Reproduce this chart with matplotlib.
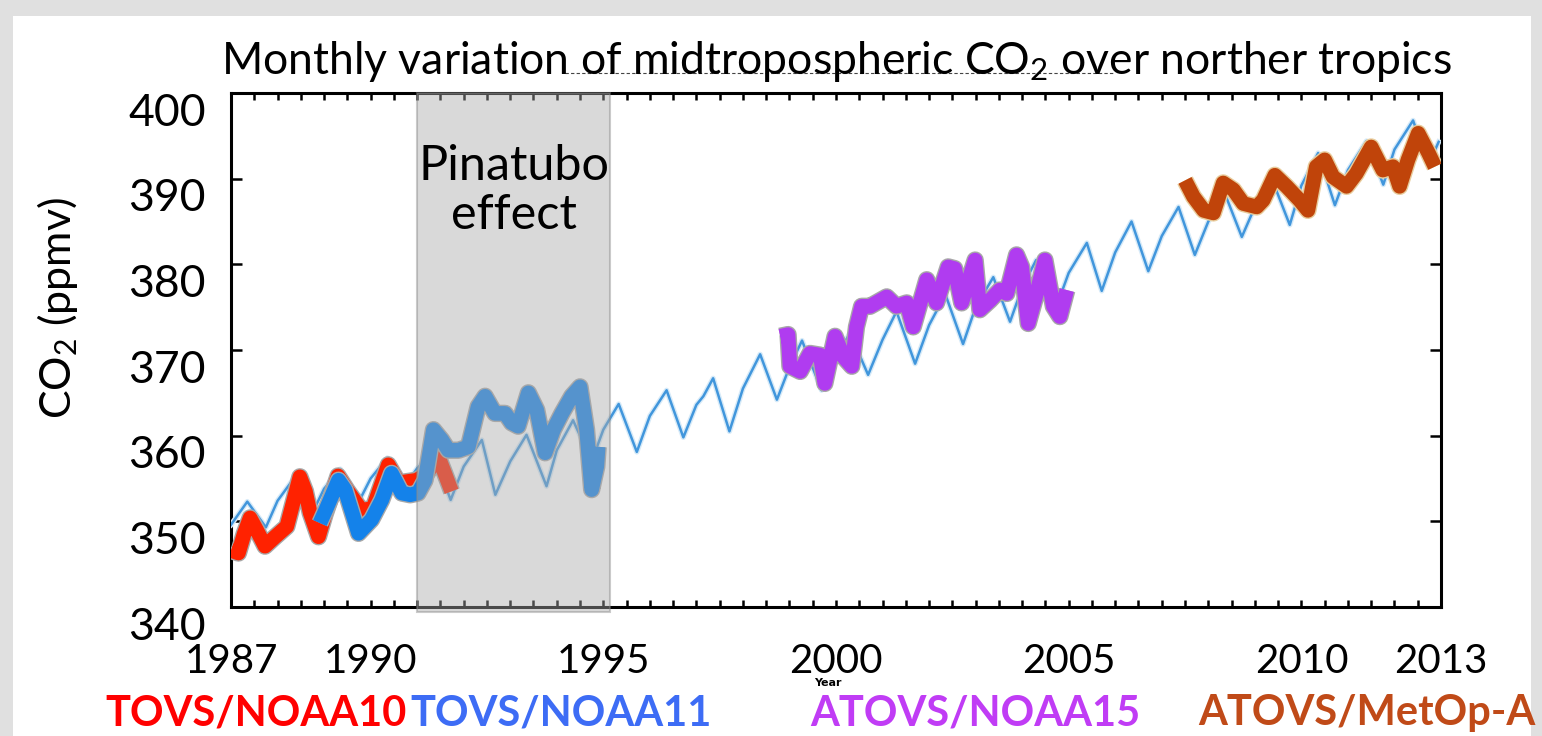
import numpy as np
import matplotlib
matplotlib.use("Agg")
import matplotlib.pyplot as plt
import matplotlib.patheffects as pe
from matplotlib.patches import Rectangle
from matplotlib.lines import Line2D
from matplotlib.transforms import ScaledTranslation

plt.rcParams['font.family'] = ['Lato', 'DejaVu Sans']
plt.rcParams['mathtext.default'] = 'regular'

# ---- data ----
# thin model curve (peaks / troughs / mid-rise points)
model_year = [1987.0, 1987.35, 1987.75, 1988.0, 1988.35, 1988.75, 1989.0, 1989.35, 1989.72,
              1990.0, 1990.36, 1990.72, 1991.0, 1991.35, 1991.72, 1992.0, 1992.39, 1992.68,
              1993.0, 1993.35, 1993.78, 1994.0, 1994.35, 1994.75, 1995.0, 1995.33, 1995.72,
              1996.0, 1996.36, 1996.72, 1997.0, 1997.15, 1997.36, 1997.71, 1998.0, 1998.37, 1998.73,
              1999.0, 1999.27, 1999.69, 2000.0, 2000.3, 2000.69, 2001.0, 2001.3, 2001.7,
              2002.0, 2002.35, 2002.73, 2003.0, 2003.38, 2003.74, 2004.0, 2004.3, 2004.72,
              2005.0, 2005.39, 2005.71, 2006.0, 2006.35, 2006.71, 2007.0, 2007.36, 2007.71,
              2008.0, 2008.36, 2008.72, 2009.0, 2009.4, 2009.75, 2010.0, 2010.36, 2010.72,
              2011.0, 2011.4, 2011.76, 2012.0, 2012.4, 2012.73, 2012.95]
model_co2 = [349.6, 352.3, 349.3, 352.4, 355.0, 351.0, 353.8, 356.1, 352.0,
             355.0, 357.4, 354.0, 356.2, 358.0, 352.5, 356.4, 359.5, 353.1,
             357.0, 360.1, 354.1, 358.3, 361.8, 357.0, 360.7, 363.7, 358.1,
             362.3, 365.3, 359.8, 363.6, 364.6, 366.7, 360.5, 365.5, 369.5, 364.2,
             368.0, 371.1, 365.3, 369.0, 372.0, 367.1, 371.2, 374.5, 368.4,
             372.9, 376.5, 370.7, 375.0, 378.5, 373.3, 377.3, 380.5, 374.8,
             379.0, 382.5, 376.9, 381.4, 385.0, 379.2, 383.3, 386.7, 381.1,
             385.0, 388.2, 383.2, 386.7, 389.5, 384.6, 389.2, 393.0, 386.9,
             391.0, 394.4, 389.3, 393.4, 396.8, 391.6, 394.3]

noaa10_year = [1987.0, 1987.16, 1987.28, 1987.41, 1987.55, 1987.73, 1987.95, 1988.2, 1988.35,
               1988.48, 1988.6, 1988.7, 1988.88, 1989.02, 1989.3, 1989.5, 1989.8, 1990.05,
               1990.38, 1990.6, 1990.99, 1991.2, 1991.45, 1991.6, 1991.74]
noaa10_co2 = [346.6, 346.3, 348.5, 350.4, 349.0, 347.1, 348.2, 349.4, 352.5,
              355.2, 353.5, 351.0, 348.2, 350.8, 355.3, 353.6, 351.3, 351.5,
              356.6, 354.5, 354.8, 355.5, 357.6, 355.5, 353.5]

noaa11_year = [1988.91, 1989.05, 1989.31, 1989.45, 1989.74, 1990.02, 1990.24, 1990.45, 1990.67,
               1990.85, 1991.02, 1991.17, 1991.35, 1991.53, 1991.67, 1991.89, 1992.1, 1992.31,
               1992.46, 1992.67, 1992.89, 1993.03, 1993.17, 1993.39, 1993.57, 1993.75, 1993.93,
               1994.11, 1994.32, 1994.5, 1994.64, 1994.75, 1994.86, 1994.89]
noaa11_co2 = [349.8, 351.5, 354.8, 353.7, 348.6, 350.2, 352.5, 355.6, 353.3,
              353.1, 353.3, 354.8, 360.7, 359.5, 358.3, 358.3, 358.7, 363.4,
              364.6, 362.6, 362.6, 361.5, 361.1, 365.0, 363.0, 358.0, 360.7,
              362.6, 364.6, 365.7, 360.7, 353.7, 356.4, 358.7]

noaa15_year = [1998.8, 1998.97, 1999.01, 1999.23, 1999.44, 1999.66, 1999.76, 1999.98, 2000.16,
               2000.34, 2000.44, 2000.55, 2000.73, 2001.09, 2001.3, 2001.52, 2001.66, 2001.95,
               2002.16, 2002.41, 2002.55, 2002.7, 2002.81, 2002.99, 2003.09, 2003.31, 2003.52,
               2003.67, 2003.88, 2003.99, 2004.13, 2004.31, 2004.49, 2004.67, 2004.81, 2004.96]
noaa15_co2 = [371.6, 371.8, 368.1, 367.5, 369.6, 369.4, 366.1, 371.6, 369.2,
              368.1, 372.7, 375.1, 375.1, 376.2, 375.1, 375.5, 372.7, 378.2,
              375.5, 379.7, 379.5, 375.5, 377.4, 380.5, 374.7, 375.8, 377.0,
              376.6, 381.1, 379.7, 373.1, 376.6, 380.5, 375.1, 373.9, 377.0]

metop_year = [2007.5, 2007.68, 2007.9, 2008.11, 2008.32, 2008.54, 2008.75, 2009.04, 2009.18,
              2009.43, 2009.68, 2009.96, 2010.14, 2010.32, 2010.5, 2010.68, 2010.97, 2011.18,
              2011.5, 2011.75, 2011.97, 2012.11, 2012.29, 2012.51, 2012.73, 2012.87]
metop_co2 = [389.8, 387.9, 386.3, 386.0, 389.5, 388.7, 387.1, 386.7, 387.5,
             390.4, 389.1, 387.5, 386.3, 391.4, 392.2, 390.2, 389.1, 390.6,
             393.7, 391.0, 391.4, 389.1, 392.2, 395.3, 393.0, 391.4]

year_ticks = [1987, 1990, 1995, 2000, 2005, 2010, 2013]
co2_ticks = [340, 350, 360, 370, 380, 390, 400]
pinatubo = (1991.0, 1995.15)

sensor_labels = ["TOVS/NOAA10", "TOVS/NOAA11", "ATOVS/NOAA15", "ATOVS/MetOp-A"]
sensor_colors = ["#ff0000", "#3d6cf5", "#c03cf5", "#c04a18"]
sensor_xpos = [256, 561, 975, 1367]

W, H = 1542, 736
fig = plt.figure(figsize=(W / 100, H / 100), dpi=100, facecolor="#e0e0e0")
fig.add_artist(Rectangle((13 / W, 0), (1531 - 13) / W, 1 - 16 / H,
                         transform=fig.transFigure, facecolor="white",
                         edgecolor="none", zorder=0))

ax = fig.add_axes([231 / W, 1 - 607 / H, (1441 - 231) / W, (607 - 93) / H])
ax.set_xlim(1987, 2013)
ax.set_ylim(340, 400)

# thin model line
ax.plot(model_year, model_co2, color="#4196dc", lw=1.8, zorder=3,
        solid_joinstyle="round",
        path_effects=[pe.Stroke(linewidth=3.8, foreground="#d6eaf8"), pe.Normal()])


def thick(x, y, c, edge="#a8a8a8", z=4):
    ax.plot(x, y, color=c, lw=10.5, zorder=z, solid_joinstyle="round",
            solid_capstyle="butt",
            path_effects=[pe.Stroke(linewidth=12.5, foreground=edge), pe.Normal()])


thick(noaa10_year, noaa10_co2, "#ff2200", z=4)
thick(noaa11_year, noaa11_co2, "#1482ea", z=5)
thick(noaa15_year, noaa15_co2, "#b03cf0", z=4)
thick(metop_year, metop_co2, "#c0440a", edge="#e8cc9c", z=4)

# Pinatubo shading (on top of everything)
ax.add_patch(Rectangle((pinatubo[0], 339.4), pinatubo[1] - pinatubo[0], 60.6,
                       facecolor="#a9a9a9", alpha=0.44, edgecolor="#888888",
                       lw=1.5, zorder=10, clip_on=False))
ax.text(sum(pinatubo) / 2, 388.6, "Pinatubo\neffect", ha="center", va="center",
        fontsize=35, linespacing=1.15, zorder=11)

# axes styling
for s in ax.spines.values():
    s.set_linewidth(2.2)
ax.set_xticks(year_ticks)
ax.set_xticklabels([str(v) for v in year_ticks], fontsize=29)
ax.set_xticks(np.arange(1987.5, 2013, 0.5), minor=True)
ax.set_yticks(co2_ticks)
ax.set_yticklabels([str(v) for v in co2_ticks], fontsize=32)
ax.tick_params(axis="x", which="both", direction="in", top=True, length=5,
               width=1.8, pad=26)
ax.tick_params(axis="y", direction="in", right=True, length=8, width=1.8, pad=18)
off = ScaledTranslation(0, -0.16, fig.dpi_scale_trans)
for lab in ax.get_yticklabels():
    lab.set_transform(lab.get_transform() + off)

fig.text(58 / W, 1 - 308 / H, "CO$_2$ (ppmv)", rotation=90, ha="center",
         va="center", fontsize=31)
fig.text(836 / W, 1 - 61 / H, "Monthly variation of midtropospheric CO$_2$ over norther tropics",
         ha="center", va="center", fontsize=32)
fig.add_artist(Line2D([565 / W, 1115 / W], [1 - 73 / H, 1 - 73 / H], transform=fig.transFigure,
                      color="#444444", lw=0.8, ls=(0, (3, 2))))
fig.text(828 / W, 1 - 683 / H, "Year", ha="center", va="center", fontsize=8,
         fontweight="bold", family="DejaVu Sans")

for lbl, col, xp in zip(sensor_labels, sensor_colors, sensor_xpos):
    fig.text(xp / W, 1 - 713 / H, lbl, color=col, ha="center", va="center",
             fontsize=30, fontweight="bold")

fig.savefig("out.png", dpi=100, facecolor=fig.get_facecolor())
